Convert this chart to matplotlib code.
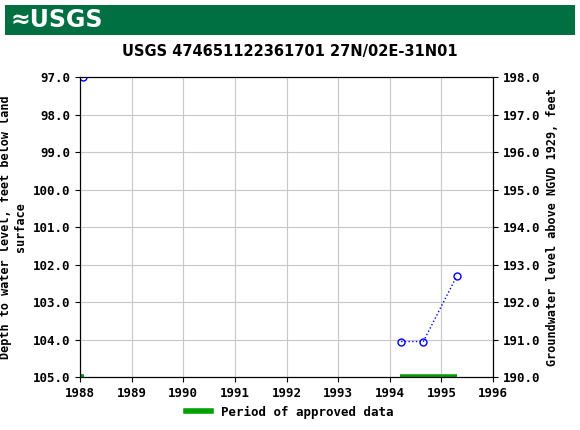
import matplotlib
matplotlib.use("Agg")
import matplotlib.pyplot as plt

# water level observations
years = [1988.05, 1994.22, 1994.65, 1995.3]
depth = [97.0, 104.05, 104.05, 102.3]

# approved periods
approved = [(1988.0, 1988.08), (1994.2, 1995.3)]

fig = plt.figure(figsize=(5.8, 4.3), dpi=100)

# header band
hdr = fig.add_axes([0.008, 0.918, 0.984, 0.07])
hdr.set_facecolor("#006f41")
hdr.set_xticks([]); hdr.set_yticks([])
for s in hdr.spines.values():
    s.set_visible(False)
hdr.text(0.01, 0.5, "\u2248USGS", color="white", fontsize=17, fontweight="bold",
         va="center", ha="left", transform=hdr.transAxes)

ax = fig.add_axes([0.138, 0.123, 0.712, 0.697])
ax.plot(years[1:], depth[1:], linestyle=":", color="blue", linewidth=1)
ax.plot(years, depth, linestyle="none", marker="o", markersize=5,
        markerfacecolor="none", markeredgecolor="blue")
for a, b in approved:
    ax.plot([a, b], [105, 105], color="#00a000", linewidth=4, solid_capstyle="butt")

ax.set_xlim(1988, 1996)
ax.set_ylim(105, 97)
ax.set_xticks(range(1988, 1997))
ax.set_yticks([97, 98, 99, 100, 101, 102, 103, 104, 105])
ax.set_yticklabels([f"{v:.1f}" for v in range(97, 106)])
ax.grid(color="#c8c8c8", linewidth=0.8)
mono = {"family": "DejaVu Sans Mono", "weight": "bold", "size": 9}
lab_font = {"family": "DejaVu Sans Mono", "weight": "bold", "size": 8.5}
for lab in ax.get_xticklabels() + ax.get_yticklabels():
    lab.set_fontproperties(mono)
ax.set_ylabel("Depth to water level, feet below land\nsurface", fontdict=lab_font)

ax2 = ax.twinx()
ax2.set_ylim(190, 198)
ax2.set_yticks(range(190, 199))
ax2.set_yticklabels([f"{v:.1f}" for v in range(190, 199)])
for lab in ax2.get_yticklabels():
    lab.set_fontproperties(mono)
ax2.set_ylabel("Groundwater level above NGVD 1929, feet", fontdict=lab_font)

fig.text(0.5, 0.87, "USGS 474651122361701 27N/02E-31N01", ha="center",
         fontsize=10.5, fontweight="bold")

fig.legend(handles=[plt.Line2D([], [], color="#00a000", linewidth=4)],
           labels=["Period of approved data"], loc="lower center",
           bbox_to_anchor=(0.5, 0.0), frameon=False, prop=mono)

fig.savefig("out.png", dpi=100)
